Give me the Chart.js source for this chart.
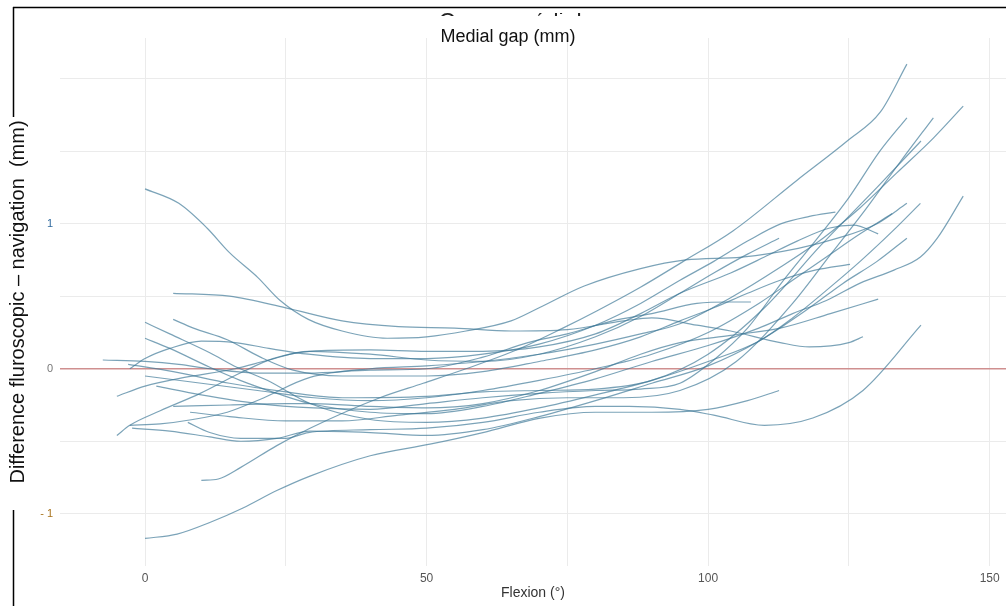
<!DOCTYPE html>
<html lang="fr">
<head>
<meta charset="UTF-8">
<title>Medial gap (mm)</title>
<script src="https://cdn.jsdelivr.net/npm/chart.js"></script>
<style>
  html, body { margin: 0; padding: 0; background: #fff; }
</style>
</head>
<body>
<canvas id="gapChart" width="1006" height="606"></canvas>
<script>
// one array per patient curve: flexion angle (deg) and difference (mm)
const flexionDeg = [
  [0, 6, 11, 15, 20, 24, 29, 35, 43, 50, 57, 65, 70, 78, 88, 96, 106, 116, 123, 130, 135.3],
  [5, 15, 25, 35, 45, 55, 65, 75, 85, 90, 98, 104, 112.8, 118, 125, 127.5],
  [10, 13, 17, 23.4, 29.3, 41.7, 49.4, 57, 65.4, 74.2, 80.3, 87.9, 95.6, 104.4, 115.8, 124.7, 130.6, 135.3],
  [0, 5.7, 11.5, 17.4, 23.4, 29.3, 40, 50.6, 60, 70.2, 80, 90, 100, 107, 112.6],
  [7.6, 11.5, 17, 25, 29, 40, 50, 60, 70, 80, 86, 95, 101, 110, 118.6, 127.5, 137.8],
  [-2.7, 0, 4.4, 10, 16, 22, 29, 40, 50, 60, 70, 80, 88, 95, 101, 107, 113, 118, 122.6],
  [-5, 0, 7, 16, 22, 29, 40, 50, 60, 70, 80, 88, 95, 101, 107, 112.6],
  [-5, -2.7, 2.7, 9.8, 16.9, 22.7, 29.3, 40, 50, 60, 70, 80, 88, 95, 104, 110, 115.8, 121.6, 125.8, 130.2],
  [-7.5, 0, 6, 11.5, 20, 29, 40, 50, 60, 68, 75, 83, 90, 98, 104, 107.6],
  [5, 8.6, 14.6, 20.5, 26.3, 35, 50, 60, 70, 80, 88, 95, 101, 107, 112.8, 119, 125.2],
  [-2.7, 2.7, 8.5, 14.6, 20.5, 29.3, 40, 50, 60, 70, 80, 88, 95, 104, 112.8, 120.4, 127, 133.5, 140, 145.3],
  [0, 10, 20, 30, 40, 50, 60, 70, 80, 90, 100, 109, 115, 121, 127, 132.7],
  [5, 15, 25, 30, 40, 50, 60, 70, 80, 88, 95, 104, 112.8, 121.7, 130.2],
  [0, 4.4, 11.5, 16.9, 23.4, 29.3, 40, 50, 60, 70, 80, 90, 100, 109, 115, 121, 127, 133, 137.7, 140.7, 145.3],
  [0, 4.4, 11.5, 16.3, 21.7, 29.3, 40, 50, 60, 70, 80, 90, 100, 109, 115, 121, 127, 132.8, 137.7],
  [-2.3, 4.4, 11.5, 17, 23.4, 29.3, 40, 50, 60, 70, 80, 90, 100, 109, 118, 124, 130, 135.3],
  [2, 10, 20, 30, 40, 50, 60, 70, 80, 88, 95, 101, 107, 113, 119, 125, 130.5, 135.3],
  [-3, 5, 15, 25, 35, 50, 60, 70, 80, 90, 100, 110, 120, 130, 137.8],
  [8, 15, 25, 35, 45, 55, 65, 75, 85, 95, 105, 115, 122, 128, 134, 140]
];
const diffMm = [
  [1.24, 1.14, 0.97, 0.80, 0.63, 0.47, 0.34, 0.26, 0.21, 0.22, 0.26, 0.33, 0.42, 0.57, 0.69, 0.75, 0.77, 0.83, 0.90, 1.00, 1.14],
  [0.52, 0.50, 0.42, 0.33, 0.29, 0.28, 0.26, 0.27, 0.33, 0.35, 0.30, 0.26, 0.18, 0.15, 0.18, 0.22],
  [-0.77, -0.76, -0.68, -0.53, -0.41, -0.20, -0.10, 0.00, 0.12, 0.28, 0.40, 0.56, 0.74, 0.95, 1.30, 1.57, 1.77, 2.10],
  [-1.17, -1.14, -1.06, -0.96, -0.84, -0.74, -0.60, -0.52, -0.44, -0.34, -0.30, -0.30, -0.28, -0.22, -0.15],
  [-0.37, -0.44, -0.48, -0.48, -0.44, -0.42, -0.41, -0.37, -0.30, -0.26, -0.26, -0.28, -0.32, -0.39, -0.34, -0.15, 0.30],
  [0.00, 0.07, 0.14, 0.19, 0.18, 0.14, 0.10, 0.07, 0.07, 0.10, 0.17, 0.30, 0.45, 0.61, 0.74, 0.88, 1.00, 1.05, 1.08],
  [-0.19, -0.12, -0.06, 0.00, 0.06, 0.12, 0.10, 0.06, 0.05, 0.10, 0.22, 0.36, 0.52, 0.66, 0.79, 0.90],
  [-0.46, -0.39, -0.29, -0.17, -0.03, 0.07, 0.12, 0.13, 0.12, 0.12, 0.15, 0.24, 0.38, 0.52, 0.66, 0.77, 0.88, 0.97, 0.99, 0.93],
  [0.06, 0.05, 0.03, 0.00, -0.03, -0.03, -0.01, 0.00, 0.08, 0.18, 0.24, 0.33, 0.38, 0.45, 0.46, 0.46],
  [0.34, 0.28, 0.20, 0.08, -0.01, -0.05, -0.05, -0.02, 0.05, 0.13, 0.22, 0.33, 0.42, 0.52, 0.61, 0.68, 0.72],
  [-0.39, -0.38, -0.35, -0.30, -0.21, -0.06, 0.00, 0.02, 0.05, 0.10, 0.17, 0.24, 0.31, 0.49, 0.70, 0.90, 1.11, 1.35, 1.59, 1.81],
  [-0.05, -0.10, -0.15, -0.20, -0.22, -0.20, -0.15, -0.08, 0.00, 0.10, 0.25, 0.45, 0.61, 0.77, 0.93, 1.07],
  [-0.26, -0.25, -0.24, -0.24, -0.26, -0.27, -0.24, -0.15, -0.02, 0.10, 0.18, 0.23, 0.28, 0.38, 0.48],
  [0.21, 0.14, 0.01, -0.08, -0.17, -0.24, -0.30, -0.31, -0.26, -0.17, -0.07, 0.05, 0.16, 0.28, 0.38, 0.47, 0.59, 0.68, 0.77, 0.90, 1.19],
  [0.32, 0.24, 0.11, 0.01, -0.08, -0.24, -0.35, -0.37, -0.34, -0.27, -0.18, -0.08, 0.05, 0.19, 0.35, 0.54, 0.74, 0.95, 1.14],
  [-0.41, -0.43, -0.47, -0.50, -0.48, -0.43, -0.44, -0.46, -0.42, -0.33, -0.22, -0.10, 0.02, 0.19, 0.42, 0.59, 0.74, 0.90],
  [-0.12, -0.18, -0.24, -0.27, -0.28, -0.24, -0.20, -0.17, -0.15, -0.14, -0.10, 0.06, 0.28, 0.59, 0.88, 1.18, 1.50, 1.73],
  [0.03, -0.02, -0.10, -0.16, -0.20, -0.19, -0.16, -0.15, -0.14, -0.08, 0.10, 0.42, 0.85, 1.25, 1.57],
  [-0.30, -0.33, -0.36, -0.36, -0.32, -0.28, -0.22, -0.20, -0.20, -0.15, 0.05, 0.45, 0.80, 1.10, 1.42, 1.73]
];
const xLabelTicks = [0, 50, 100, 150];
const yLabelTicks = [-1, 0, 1];

const datasets = flexionDeg.map((xs, i) => ({
  data: xs.map((x, j) => ({ x: x, y: diffMm[i][j] })),
  borderColor: 'rgba(60,120,150,0.68)',
  borderWidth: 1.2,
  pointRadius: 0,
  fill: false,
  cubicInterpolationMode: 'monotone'
}));

// titles and the black frame round the figure
const framePlugin = {
  id: 'frame',
  afterDraw(chart) {
    const c = chart.ctx;
    c.save();
    c.strokeStyle = '#000';
    c.lineWidth = 1.5;
    c.beginPath();
    c.moveTo(13, 7.5); c.lineTo(1006, 7.5);
    c.moveTo(13.5, 7); c.lineTo(13.5, 117);
    c.moveTo(13.5, 510); c.lineTo(13.5, 606);
    c.stroke();

    // top title, mostly cut off
    c.save();
    c.beginPath();
    c.rect(0, 13, 1006, 3);
    c.clip();
    c.fillStyle = '#222';
    c.font = '23px "Liberation Sans", Arial, sans-serif';
    c.textAlign = 'center';
    c.textBaseline = 'alphabetic';
    c.fillText('Genou médial', 510, 29.5);
    c.restore();

    c.fillStyle = '#111';
    c.font = '18px "Liberation Sans", Arial, sans-serif';
    c.textAlign = 'center';
    c.textBaseline = 'middle';
    c.fillText('Medial gap (mm)', 508, 37);
    c.restore();
  }
};

new Chart(document.getElementById('gapChart'), {
  type: 'line',
  data: { datasets: datasets },
  options: {
    responsive: false,
    animation: false,
    layout: { padding: { top: 38, left: 0, right: 0, bottom: 0 } },
    plugins: {
      legend: { display: false },
      tooltip: { enabled: false },
      title: { display: false }
    },
    scales: {
      x: {
        type: 'linear',
        min: -15.1,
        max: 152.9,
        border: { display: false },
        grid: { color: '#ebebeb', lineWidth: 1, drawTicks: false },
        ticks: {
          stepSize: 25,
          includeBounds: false,
          padding: 5,
          color: '#555',
          font: { family: '"Liberation Sans", Arial, sans-serif', size: 12 },
          maxRotation: 0,
          autoSkip: false,
          callback: v => xLabelTicks.includes(v) ? String(v) : ''
        },
        title: {
          display: true,
          text: 'Flexion (°)',
          color: '#333',
          font: { family: '"Liberation Sans", Arial, sans-serif', size: 14 },
          padding: { top: 0, bottom: 4 }
        },
        afterFit: s => { s.height = 40; }
      },
      y: {
        min: -1.36,
        max: 2.28,
        border: { display: false },
        grid: {
          drawTicks: false,
          color: ctx => ctx.tick && ctx.tick.value === 0 ? '#cf8f8f' : '#ebebeb',
          lineWidth: ctx => ctx.tick && ctx.tick.value === 0 ? 1.4 : 1
        },
        ticks: {
          stepSize: 0.5,
          includeBounds: false,
          padding: 7,
          autoSkip: false,
          font: { family: '"Liberation Sans", Arial, sans-serif', size: 11 },
          color: ctx => ctx.tick.value === 1 ? '#2f6a9e' : (ctx.tick.value === -1 ? '#a8731c' : '#777'),
          callback: v => yLabelTicks.includes(v) ? (v < 0 ? '- ' + Math.abs(v) : String(v)) : ''
        },
        title: {
          display: true,
          text: 'Difference fluroscopic \u2013 navigation  (mm)',
          color: '#111',
          font: { family: '"Liberation Sans", Arial, sans-serif', size: 20 },
          padding: { top: 6, bottom: 0 }
        },
        afterFit: s => { s.width = 60; }
      }
    }
  },
  plugins: [framePlugin]
});
</script>
</body>
</html>
